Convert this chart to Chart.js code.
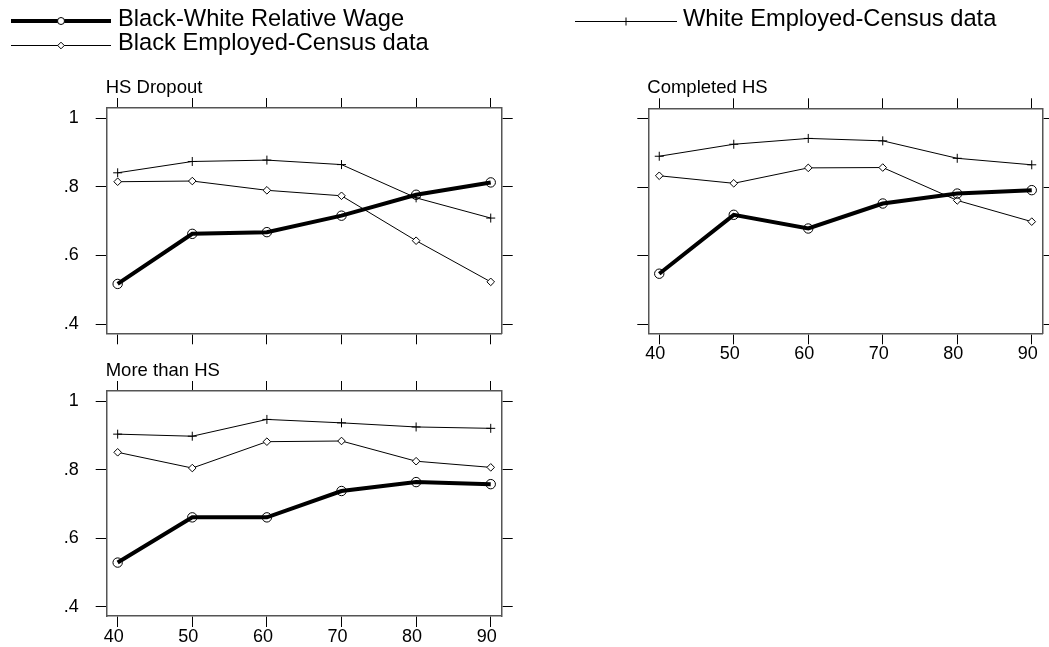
<!DOCTYPE html>
<html>
<head>
<meta charset="utf-8">
<script src="https://cdn.jsdelivr.net/npm/chart.js"></script>
<style>
  body { margin: 0; background: #fff; }
  #wrap { position: relative; width: 1049px; height: 647px; overflow: hidden; background: #fff; }
  canvas { position: absolute; }
</style>
</head>
<body>
<div id="wrap">
  <canvas id="legend" width="1049" height="62" style="left:0;top:0"></canvas>
  <canvas id="p1" width="540" height="290" style="left:0;top:70px"></canvas>
  <canvas id="p2" width="509" height="300" style="left:540px;top:70px"></canvas>
  <canvas id="p3" width="540" height="292" style="left:0;top:355px"></canvas>
</div>
<script>
// DATA
const years = [40, 50, 60, 70, 80, 90];
const yTicks = [0.4, 0.6, 0.8, 1];

const dropoutWage  = [0.517, 0.663, 0.668, 0.716, 0.777, 0.813];
const dropoutBlack = [0.815, 0.817, 0.790, 0.774, 0.643, 0.523];
const dropoutWhite = [0.841, 0.874, 0.878, 0.865, 0.768, 0.709];

const completedWage  = [0.547, 0.719, 0.679, 0.752, 0.781, 0.791];
const completedBlack = [0.833, 0.811, 0.856, 0.857, 0.761, 0.699];
const completedWhite = [0.890, 0.925, 0.942, 0.935, 0.884, 0.865];

const moreWage  = [0.529, 0.661, 0.661, 0.738, 0.764, 0.758];
const moreBlack = [0.851, 0.805, 0.882, 0.884, 0.825, 0.807];
const moreWhite = [0.904, 0.898, 0.947, 0.937, 0.925, 0.921];

const FONT = '"Liberation Sans", Arial, sans-serif';

function pts(vals) {
  return years.map((y, i) => ({ x: y, y: vals[i] }));
}

// panel title drawn above the plot box
const titlePlugin = {
  id: "panelTitle",
  afterDraw(chart, args, opts) {
    const ctx = chart.ctx;
    ctx.save();
    ctx.font = "18.5px " + FONT;
    ctx.fillStyle = "#000";
    ctx.textBaseline = "alphabetic";
    ctx.fillText(opts.text, chart.chartArea.left - 1, chart.chartArea.top - 15);
    ctx.restore();
  }
};

function makePanel(id, title, wage, black, white, cfg) {
  const tickFont = { family: FONT, size: 18, lineHeight: 1 };
  const grid = { drawOnChartArea: false, drawTicks: true, tickLength: 11, color: "#000", lineWidth: 1 };
  const border = { display: true, color: "#555", width: 1.5 };
  const setX = s => { s.ticks = years.map(v => ({ value: v })); };
  const setY = s => { s.ticks = yTicks.map(v => ({ value: v })); };

  new Chart(document.getElementById(id), {
    type: "line",
    data: {
      datasets: [
        {
          data: pts(wage), borderColor: "#000", borderWidth: 4,
          pointStyle: "circle", pointRadius: 4.7, pointBorderWidth: 1,
          pointBackgroundColor: "rgba(255,255,255,0)", pointBorderColor: "#000"
        },
        {
          data: pts(black), borderColor: "#000", borderWidth: 1,
          pointStyle: "rectRot", pointRadius: 3.8, pointBorderWidth: 1,
          pointBackgroundColor: "#fff", pointBorderColor: "#000"
        },
        {
          data: pts(white), borderColor: "#000", borderWidth: 1,
          pointStyle: "cross", pointRadius: 4.5, pointBorderWidth: 1,
          pointBorderColor: "#000"
        }
      ]
    },
    options: {
      responsive: false,
      animation: false,
      layout: { padding: 0 },
      plugins: { legend: { display: false }, tooltip: { enabled: false }, panelTitle: { text: title } },
      scales: {
        x: {
          type: "linear", axis: "x", position: "bottom", min: 38.53, max: 91.47,
          afterBuildTicks: setX,
          afterFit: s => { s.height = cfg.bottom; },
          ticks: { display: cfg.xLabels, font: tickFont, color: "#000", padding: 1, labelOffset: -4,
                   maxRotation: 0, callback: v => String(v) },
          grid: grid, border: border
        },
        x2: {
          type: "linear", axis: "x", position: "top", min: 38.53, max: 91.47,
          afterBuildTicks: setX,
          afterFit: s => { s.height = cfg.top; },
          ticks: { display: false },
          grid: Object.assign({}, grid, { tickLength: 10 }), border: border
        },
        y: {
          type: "linear", axis: "y", position: "left", min: 0.373, max: 1.03,
          afterBuildTicks: setY,
          afterFit: s => { s.width = cfg.left; },
          ticks: { display: cfg.yLabels, font: tickFont, color: "#000", padding: 17,
                   callback: v => (v === 1 ? "1" : "." + Math.round(v * 10)) },
          grid: grid, border: border
        },
        y2: {
          type: "linear", axis: "y", position: "right", min: 0.373, max: 1.03,
          afterBuildTicks: setY,
          afterFit: s => { s.width = cfg.right; },
          ticks: { display: false },
          grid: grid, border: border
        }
      }
    },
    plugins: [titlePlugin]
  });
}

makePanel("p1", "HS Dropout", dropoutWage, dropoutBlack, dropoutWhite,
  { left: 106.7, right: 38.3, top: 38, bottom: 26.7, xLabels: false, yLabels: true });
makePanel("p2", "Completed HS", completedWage, completedBlack, completedWhite,
  { left: 108.3, right: 6.3, top: 38.3, bottom: 36.7, xLabels: true, yLabels: false });
makePanel("p3", "More than HS", moreWage, moreBlack, moreWhite,
  { left: 106.7, right: 38.3, top: 36, bottom: 31, xLabels: true, yLabels: true });

// LEGEND
const legendItems = [
  { text: "Black-White Relative Wage", style: "circle", width: 4, x0: 11, x1: 111, y: 21, tx: 118, ty: 26 },
  { text: "Black Employed-Census data", style: "diamond", width: 1, x0: 11, x1: 111, y: 45.5, tx: 118, ty: 49.5 },
  { text: "White Employed-Census data", style: "cross", width: 1, x0: 575, x1: 677, y: 21.5, tx: 683, ty: 26 }
];

const legendPlugin = {
  id: "sampleLegend",
  afterDraw(chart) {
    const ctx = chart.ctx;
    ctx.save();
    legendItems.forEach(it => {
      const mx = (it.x0 + it.x1) / 2;
      ctx.strokeStyle = "#000";
      ctx.lineWidth = it.width;
      ctx.beginPath();
      ctx.moveTo(it.x0, it.y);
      ctx.lineTo(it.x1, it.y);
      ctx.stroke();
      ctx.lineWidth = 1;
      ctx.fillStyle = "#fff";
      ctx.beginPath();
      if (it.style === "circle") {
        ctx.arc(mx, it.y, 3.5, 0, Math.PI * 2);
        ctx.fill();
        ctx.stroke();
      } else if (it.style === "diamond") {
        ctx.moveTo(mx, it.y - 3.3);
        ctx.lineTo(mx + 3.3, it.y);
        ctx.lineTo(mx, it.y + 3.3);
        ctx.lineTo(mx - 3.3, it.y);
        ctx.closePath();
        ctx.fill();
        ctx.stroke();
      } else {
        ctx.moveTo(mx - 4, it.y);
        ctx.lineTo(mx + 4, it.y);
        ctx.moveTo(mx, it.y - 4);
        ctx.lineTo(mx, it.y + 4);
        ctx.stroke();
      }
      ctx.fillStyle = "#000";
      ctx.font = "23.7px " + FONT;
      ctx.textBaseline = "alphabetic";
      ctx.fillText(it.text, it.tx, it.ty);
    });
    ctx.restore();
  }
};

new Chart(document.getElementById("legend"), {
  type: "line",
  data: { datasets: [] },
  options: {
    responsive: false,
    animation: false,
    plugins: { legend: { display: false }, tooltip: { enabled: false } },
    scales: { x: { display: false }, y: { display: false } }
  },
  plugins: [legendPlugin]
});
</script>
</body>
</html>
